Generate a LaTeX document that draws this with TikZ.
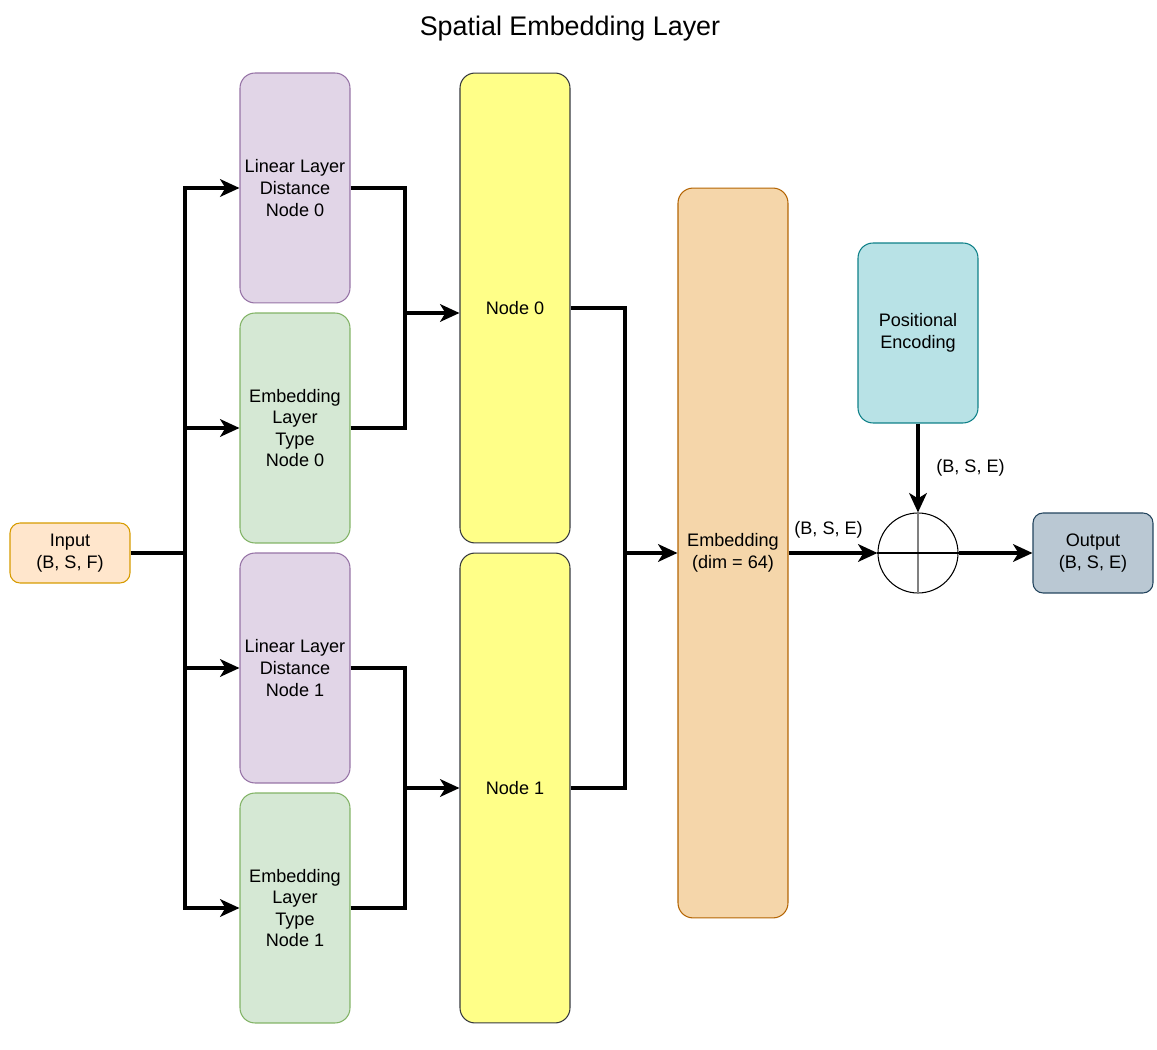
\documentclass[tikz,border=0pt]{standalone}
\usepackage{fontspec}
\setmainfont{Liberation Sans}
\usetikzlibrary{arrows.meta,positioning}

\definecolor{inpfill}{HTML}{FFE6CC}
\definecolor{inpdraw}{HTML}{D79B00}
\definecolor{linfill}{HTML}{E1D5E7}
\definecolor{lindraw}{HTML}{9673A6}
\definecolor{typfill}{HTML}{D5E8D4}
\definecolor{typdraw}{HTML}{82B366}
\definecolor{nodfill}{HTML}{FFFF88}
\definecolor{noddraw}{HTML}{36393D}
\definecolor{embfill}{HTML}{F5D6AA}
\definecolor{embdraw}{HTML}{B46504}
\definecolor{posfill}{HTML}{B8E2E6}
\definecolor{posdraw}{HTML}{0E8088}
\definecolor{outfill}{HTML}{BAC8D3}
\definecolor{outdraw}{HTML}{23445D}

\tikzset{
  box/.style={draw, line width=0.6pt, rounded corners=0.3cm, align=center,
    font=\fontsize{10.3}{12.3}\selectfont, inner sep=1pt,
    minimum width=2.2cm, minimum height=4.6cm},
  wire/.style={line width=2.2pt},
  link/.style={line width=2.2pt, -{Stealth[length=11pt,width=10pt,inset=3pt]}},
  shape lbl/.style={font=\fontsize{10.3}{12}\selectfont}
}

\begin{document}
\begin{tikzpicture}[x=0.02cm,y=-0.02cm]
  \useasboundingbox (0,0) rectangle (1157,1050);

  \node[font=\fontsize{15.3}{17}\selectfont] (title) at (570,29) {Spatial Embedding Layer};

  % input
  \node[box, fill=inpfill, draw=inpdraw, minimum height=1.2cm, minimum width=2.4cm,
    rounded corners=0.2cm] (inp) at (70,553) {Input\\(B, S, F)};

  % per-node branches
  \node[box, fill=linfill, draw=lindraw] (lin0) at (295,188) {Linear Layer\\Distance\\Node 0};
  \node[box, fill=typfill, draw=typdraw] (typ0) at (295,428) {Embedding\\Layer\\Type\\Node 0};
  \node[box, fill=linfill, draw=lindraw] (lin1) at (295,668) {Linear Layer\\Distance\\Node 1};
  \node[box, fill=typfill, draw=typdraw] (typ1) at (295,908) {Embedding\\Layer\\Type\\Node 1};

  \node[box, fill=nodfill, draw=noddraw, minimum height=9.4cm] (nd0) at (515,308) {Node 0};
  \node[box, fill=nodfill, draw=noddraw, minimum height=9.4cm] (nd1) at (515,788) {Node 1};

  \node[box, fill=embfill, draw=embdraw, minimum height=14.6cm] (emb) at (733,553) {Embedding\\(dim = 64)};

  \node[box, fill=posfill, draw=posdraw, minimum width=2.4cm, minimum height=3.6cm] (pos) at (918,333) {Positional\\Encoding};

  \node[circle, draw, line width=0.6pt, minimum size=1.6cm, inner sep=0pt] (sum) at (918,553) {};
  \draw[gray, line width=0.6pt] (sum.north) -- (sum.south);
  \draw[line width=0.6pt] (sum.west) -- (sum.east);

  \node[box, fill=outfill, draw=outdraw, minimum width=2.4cm, minimum height=1.6cm,
    rounded corners=0.2cm] (out) at (1093,553) {Output\\(B, S, E)};

  % split of the input
  \coordinate (split) at (185,553);
  \draw[wire] (inp.east) -- (split);
  \draw[link] (split) |- (lin0.west);
  \draw[link] (split) |- (typ0.west);
  \draw[link] (split) |- (lin1.west);
  \draw[link] (split) |- (typ1.west);

  % merge into the node blocks
  \coordinate (mrg0) at (405,313);
  \coordinate (mrg1) at (405,788);
  \draw[wire] (lin0.east) -| (mrg0);
  \draw[wire] (typ0.east) -| (mrg0);
  \draw[link] (mrg0) -- (mrg0 -| nd0.west);
  \draw[wire] (lin1.east) -| (mrg1);
  \draw[wire] (typ1.east) -| (mrg1);
  \draw[link] (mrg1) -- (mrg1 -| nd1.west);

  % merge into embedding
  \coordinate (mrg2) at (625,553);
  \draw[wire] (nd0.east) -| (mrg2);
  \draw[wire] (nd1.east) -| (mrg2);
  \draw[link] (mrg2) -- (emb.west);

  \draw[link] (emb.east) -- node[shape lbl, above=4pt, pos=0.45] {(B, S, E)} (sum.west);
  \draw[link] (pos.south) -- node[shape lbl, right=6pt] {(B, S, E)} (sum.north);
  \draw[link] (sum.east) -- (out.west);
\end{tikzpicture}
\end{document}
